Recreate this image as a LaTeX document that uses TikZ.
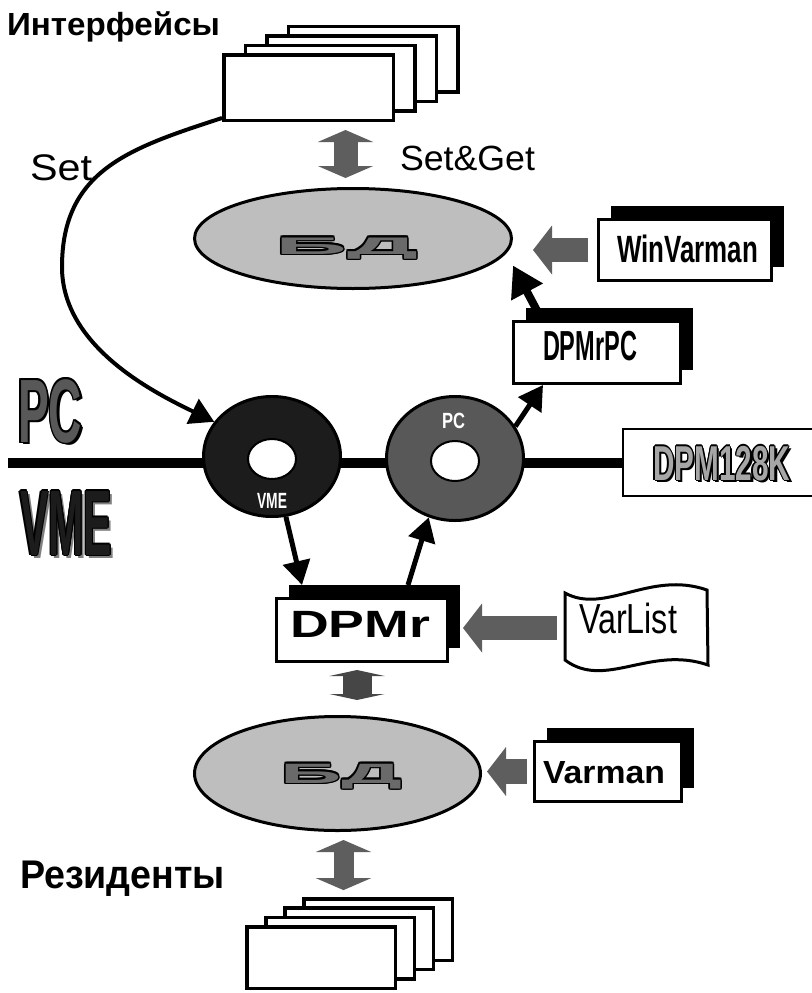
\documentclass[tikz,border=0pt]{standalone}
\usepackage{fontspec}
\setmainfont{Liberation Sans}
\usepackage{graphicx}
\usetikzlibrary{arrows.meta,shapes.geometric,shadows}
\pgfdeclarelayer{background}
\pgfdeclarelayer{behind}
\pgfsetlayers{background,behind,main}
\definecolor{dbgray}{HTML}{BEBEBE}
\definecolor{fatgray}{HTML}{5E5E5E}
\definecolor{ringA}{HTML}{1C1C1C}
\definecolor{ringB}{HTML}{585858}
\definecolor{bdfill}{HTML}{6A6A6A}
\newcommand\fitw[3]{\resizebox{#1pt}{\height}{\fontsize{#2}{#2}\selectfont #3}}
% name, position, fill colour, outline radius, shadow offset, shadow colour, content
\newcommand\otext[7]{%
  \node[tx, text=#6] (#1-s) at ([shift={(#5,#5)}]#2) {#7};
  \foreach \a in {0,45,...,315}{\node[tx, text=black] (#1-\a) at ([shift={(\a:#4)}]#2) {#7};}
  \node[tx, text=#3] (#1) at (#2) {#7};
}
\begin{document}
\begin{tikzpicture}[x=1pt,y=-1pt,
  tx/.style={inner sep=0pt, outer sep=0pt, anchor=base west},
  page/.style={draw=black, line width=3.5pt, fill=white, rectangle, inner sep=0pt},
  sbox/.style={draw=black, line width=3pt, fill=white, rectangle, inner sep=0pt,
    drop shadow={shadow xshift=12pt, shadow yshift=14pt, fill=black, opacity=1}},
  db/.style={ellipse, draw=black, line width=3pt, fill=dbgray, inner sep=0pt},
  ring/.style={ellipse, draw=black, line width=3pt, inner sep=0pt},
  hole/.style={ellipse, draw=black, line width=2pt, fill=white, inner sep=0pt},
  blk/.style={draw=black, line width=5pt, -{Triangle[length=24pt,width=27pt]}},
  fatL/.style={draw=fatgray, line width=24pt, -{Triangle[length=19pt,width=48pt]}},
  dfatA/.style={draw=fatgray, line width=24pt, {Triangle[length=12pt,width=55pt]}-{Triangle[length=12pt,width=55pt]}},
  dfatS/.style={draw=fatgray!75!black, line width=29pt, {Triangle[length=6pt,width=55pt]}-{Triangle[length=6pt,width=55pt]}}
]
\useasboundingbox (0,0) rectangle (811,993);
\begin{pgfonlayer}{background}
\fill[white] (0,0) rectangle (811,993);
\end{pgfonlayer}

% ---------- labels ----------
\node[tx] (lint) at (7,35) {\fitw{213}{32}{\bfseries Интерфейсы}};
\node[tx] (lset) at (30,180) {\fitw{62}{37}{Set}};
\node[tx] (lsg) at (400,170) {\fitw{135}{35}{Set\&Get}};
\node[tx] (lres) at (20,888) {\fitw{205}{40}{\bfseries Резиденты}};

% ---------- bus ----------
\node[draw=black, line width=2pt, fill=white, minimum width=206pt, minimum height=67pt, inner sep=0pt] (dpm) at (726,462.5) {};
\coordinate (busL) at (8,463);
\draw[line width=10pt] (busL) -- (busL -| dpm.west);
\coordinate (dpmpos) at (653,480);
\otext{dpmt}{dpmpos}{gray!70}{1.1pt}{2.5}{black}{\fitw{137}{49}{\bfseries DPM128K}}
\coordinate (pcpos) at (18,442);
\otext{pcL}{pcpos}{ringB}{1.5pt}{2.5}{black}{\fitw{64}{90}{\bfseries PC}}
\coordinate (vmepos) at (20,555);
\otext{vmeL}{vmepos}{ringA}{1.2pt}{3}{gray}{\fitw{92}{93}{\bfseries VME}}

% ---------- tori ----------
\node[ring, fill=ringA, minimum width=137pt, minimum height=120pt] (vme) at (272,456.5) {};
\node[hole, minimum width=48pt, minimum height=40pt] (vmeh) at (272,459) {};
\node[tx, text=white] (vmet) at (257,508) {\fitw{30}{22}{\bfseries VME}};
\node[ring, fill=ringB, minimum width=137pt, minimum height=124pt] (pct) at (455,458.5) {};
\node[hole, minimum width=48pt, minimum height=40pt] (pch) at (455,461) {};
\node[tx, text=white] (pctt) at (442,428) {\fitw{23}{22}{\bfseries PC}};

% ---------- top stack ----------
\node[page, minimum width=169.5pt, minimum height=65.5pt] (s4) at (373,59) {};
\node[page, minimum width=169.5pt, minimum height=65.5pt] (s3) at (351.5,68.5) {};
\node[page, minimum width=169.5pt, minimum height=65.5pt] (s2) at (330,78) {};
\node[page, minimum width=169.5pt, minimum height=65.5pt] (s1) at (308.5,87.5) {};

% ---------- top DB ----------
\node[db, minimum width=317pt, minimum height=100pt] (ellT) at (353,238.5) {};
\coordinate (bdTpos) at (275,254);
\otext{bdT}{bdTpos}{bdfill}{1.6pt}{0}{black}{\fitw{143}{24}{\bfseries БД}}

% Set curve
\coordinate (setmid) at (62,267);
\draw[blk, line width=4pt] ([yshift=4pt]s1.south west) .. controls (130,148) and (62,170) .. (setmid) .. controls (62,347) and (155,393) .. (vme.149);

% Set&Get
\draw[dfatA] ([xshift=-7.5pt,yshift=-8pt]ellT.north |- s1.south) -- ([xshift=-7.5pt,yshift=9pt]ellT.north);

% ---------- boxes ----------
\node[sbox, minimum width=173pt, minimum height=61pt] (winv) at (685,250) {};
\node[tx] (winvt) at (617,262) {\fitw{141}{38}{\bfseries WinVarman}};
\node[sbox, minimum width=167pt, minimum height=62pt] (dpmrpc) at (597,352.5) {};
\node[tx] (dpmrpct) at (543,360) {\fitw{94}{42}{\bfseries DPMrPC}};
\node[sbox, minimum width=171pt, minimum height=63pt] (dpmr) at (362,630) {};
\node[tx] (dpmrt) at (290,637) {\fitw{140}{38}{\bfseries DPMr}};
\node[sbox, minimum width=147pt, minimum height=60pt] (varm) at (608,771.5) {};
\node[tx] (varmt) at (543,783) {\fitw{122}{32}{\bfseries Varman}};

% arrows passing behind the boxes
\begin{pgfonlayer}{behind}
\draw[blk, line width=8pt, -{Triangle[length=30pt,width=34pt]}] ([xshift=-55pt]dpmrpc.north) -- ([yshift=-27pt]ellT.east);
\draw[blk] (pct.28) -- ([xshift=-54pt]dpmrpc.south);
\draw[blk] ([xshift=46pt,yshift=12pt]dpmr.north) -- (pct.-114);
\end{pgfonlayer}

\draw[fatL] ([xshift=-9pt]winv.west) -- ([xshift=20pt]ellT.east |- winv.west);

% VME -> DPMr
\draw[blk] (vme.-77) -- ([xshift=-60pt,yshift=12pt]dpmr.north);

% ---------- VarList ----------
\draw[line width=3pt, fill=white] (565,593) .. controls (605,615) and (650,570) .. (707,590) -- (708,665) .. controls (650,645) and (605,690) .. (565,660) -- cycle;
\node[inner sep=0pt, minimum width=142pt, minimum height=70pt] (vl) at (636,628) {};
\node[tx] (vlt) at (579,633) {\fitw{98}{42}{VarList}};
\draw[fatL] ([xshift=-8pt]vl.west) -- ([xshift=14pt]dpmr.east |- vl.west);

% ---------- bottom DB ----------
\node[db, minimum width=286pt, minimum height=114pt] (ellB) at (337.5,773.5) {};
\coordinate (bdBpos) at (280,783);
\otext{bdB}{bdBpos}{bdfill}{1.6pt}{0}{black}{\fitw{122}{28}{\bfseries БД}}
\draw[dfatS] ([xshift=-5pt,yshift=-7pt]dpmr.south) -- ([xshift=-5pt,yshift=15pt]dpmr.south |- ellB.north);
\draw[fatL, line width=25pt] ([xshift=-6pt]varm.west) -- ([xshift=5pt]ellB.east |- varm.west);

% ---------- bottom stack ----------
\node[page, minimum width=148.5pt, minimum height=61.5pt] (b4) at (378,929.6) {};
\node[page, minimum width=148.5pt, minimum height=61.5pt] (b3) at (359,938.9) {};
\node[page, minimum width=148.5pt, minimum height=61.5pt] (b2) at (340,948.2) {};
\node[page, minimum width=148.5pt, minimum height=61.5pt] (b1) at (321,957.5) {};
\draw[dfatA, line width=20pt] ([xshift=6pt,yshift=-8pt]ellB.south) -- ([xshift=6pt,yshift=7pt]ellB.south |- b4.north);
\end{tikzpicture}
\end{document}
